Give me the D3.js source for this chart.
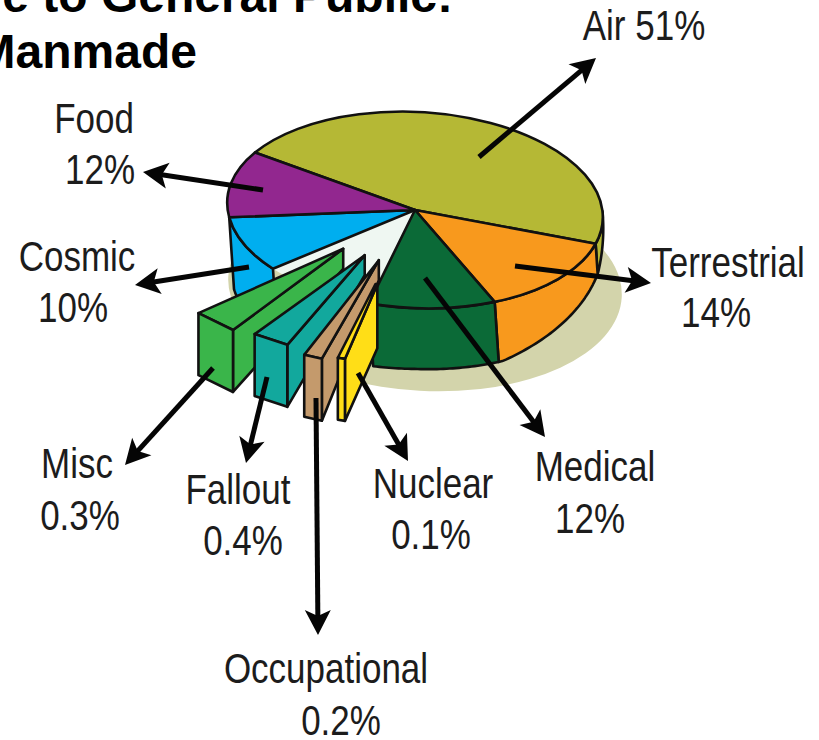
<!DOCTYPE html>
<html>
<head>
<meta charset="utf-8">
<title>Exposure to General Public</title>
<script src="https://d3js.org/d3.v7.min.js"></script>
<style>
  html, body { margin: 0; padding: 0; background: #fff; overflow: hidden; }
  svg { display: block; }
  text { font-family: "Liberation Sans", Arial, sans-serif; fill: #1c1c1c; }
  .title { font-weight: bold; font-size: 48px; fill: #000; text-anchor: end; }
  .label { font-size: 35px; text-anchor: middle; }
</style>
</head>
<body>
<svg width="819" height="740"></svg>
<script>
// clockwise from the air slice, same order as the drawing
var sliceNames = ["Air", "Terrestrial", "Medical", "Nuclear", "Occupational", "Fallout", "Misc", "Cosmic", "Food"];
var reportedPct = [51, 14, 12, 0.1, 0.2, 0.4, 0.3, 10, 12];
// the picture does not draw to scale, these are the shares as measured on it
var drawnShare = [45.6, 13.6, 10.9, 0.8, 1.7, 3.3, 3.9, 9, 11.1];
var sliceColors = ["#b5b835", "#f8991d", "#0b6a37", "#ffde17", "#c49a6c", "#12a89d", "#3ab54a", "#00aeef", "#92278f"];
var explodedNames = ["Misc", "Fallout", "Occupational", "Nuclear"];

// layout of the callouts, not data
var labelLayout = {
  Air: { name: [644, 40], pct: [0, 0], inline: true, from: [479, 157], to: [596, 58] },
  Terrestrial: { name: [728, 277], pct: [716, 327], from: [515, 266], to: [651, 283] },
  Medical: { name: [595, 481], pct: [590, 533], from: [425, 278], to: [545, 437] },
  Nuclear: { name: [433, 498], pct: [431, 549], from: [358, 373], to: [408, 461] },
  Occupational: { name: [326, 683], pct: [341, 735], from: [316, 398], to: [318, 635] },
  Fallout: { name: [238, 504], pct: [243, 555], from: [267, 377], to: [246, 463] },
  Misc: { name: [77, 478], pct: [80, 530], from: [213, 368], to: [125, 465] },
  Cosmic: { name: [77, 271], pct: [73, 322], from: [249, 267], to: [135, 285] },
  Food: { name: [94, 133], pct: [100, 184], from: [263, 190], to: [143, 172] }
};

var cx = 415, cy = 210, rx = 188, ry = 98, tilt = 3;
var tiltRad = tilt * Math.PI / 180;
var explode = { Misc: 0.57, Fallout: 0.55, Occupational: 0.56, Nuclear: 0.52 };
var blockRadius = { Misc: 1.05, Fallout: 1.03, Occupational: 1.07, Nuclear: 1.07 };
var blockTurn = { Misc: -1.5, Fallout: 0, Occupational: -1, Nuclear: -2 };
var blockDepth = 62;
var tipDepth = { Misc: 20, Fallout: 20, Occupational: 20, Nuclear: 64 };
var blockReach = { Misc: 1, Fallout: 1, Occupational: 1, Nuclear: 0.74 };
var inset = 0.4 * Math.PI / 180;
var strokeW = 2.6;
var labelStretch = 1.2;

var svg = d3.select("svg");
var color = d3.scaleOrdinal().domain(sliceNames).range(sliceColors);

var slices = d3.pie().sort(null)
  .startAngle(300 * Math.PI / 180)
  .endAngle(660 * Math.PI / 180)(drawnShare);
slices.forEach(function(d, i) { d.name = sliceNames[i]; d.pct = reportedPct[i]; });
function slice(name) { return slices.filter(function(d) { return d.name === name; })[0]; }

// the wall is not even, the pie is tipped towards the right
var wallDepth = d3.scaleLinear()
  .domain([85, 104, 152, 180, 228, 262])
  .range([0, 30, 60, 61, 68, 72])
  .clamp(true);

function offset(a, r) {
  var x = rx * r * Math.sin(a), y = -ry * r * Math.cos(a);
  return [x * Math.cos(tiltRad) - y * Math.sin(tiltRad), x * Math.sin(tiltRad) + y * Math.cos(tiltRad)];
}
function rim(a, r) {
  var o = offset(a, r);
  return [cx + o[0], cy + o[1]];
}
function deg(a) { return (a * 180 / Math.PI) % 360; }

var line = d3.line();

function wallPath(a0, a1) {
  var n = 40;
  var angles = d3.range(n + 1).map(function(i) { return a0 + (a1 - a0) * i / n; });
  var top = angles.map(function(a) { return rim(a, 1); });
  var bottom = angles.slice().reverse().map(function(a) {
    var p = rim(a, 1), h = wallDepth(deg(a));
    return [p[0] + 4 * h / 60, p[1] + h];
  });
  return line(top.concat(bottom)) + "Z";
}

// ground shadow
svg.append("ellipse")
  .attr("cx", 425).attr("cy", 287).attr("rx", 197).attr("ry", 104)
  .attr("transform", "rotate(3 425 287)")
  .attr("fill", "#d3d4ab");

// walls
var walls = [
  { name: "Cosmic", a0: slice("Cosmic").startAngle, a1: slice("Cosmic").endAngle },
  { name: "Air", a0: 85 * Math.PI / 180, a1: slice("Air").endAngle - 2 * Math.PI },
  { name: "Terrestrial", a0: slice("Terrestrial").startAngle - 2 * Math.PI, a1: slice("Terrestrial").endAngle - 2 * Math.PI },
  { name: "Medical", a0: slice("Medical").startAngle - 2 * Math.PI, a1: slice("Medical").endAngle - 2 * Math.PI }
];
svg.append("g").selectAll("path").data(walls).enter().append("path")
  .attr("d", function(d) { return wallPath(d.a0, d.a1); })
  .attr("fill", function(d) { return color(d.name); })
  .attr("stroke", "#111").attr("stroke-width", strokeW).attr("stroke-linejoin", "round");

// top surface, d3.arc flattened into the ellipse
var arc = d3.arc().innerRadius(0).outerRadius(100);
var flat = "translate(" + cx + "," + cy + ") rotate(" + tilt + ") scale(" + rx / 100 + "," + ry / 100 + ")";

svg.append("path")
  .attr("transform", flat)
  .attr("d", arc({
    startAngle: slice("Nuclear").startAngle,
    endAngle: slice("Misc").endAngle
  }))
  .attr("fill", "#eff7f2");

var tops = slices.filter(function(d) { return explodedNames.indexOf(d.name) < 0; });
svg.append("g").selectAll("path").data(tops).enter().append("path")
  .attr("transform", flat)
  .attr("d", arc)
  .attr("fill", function(d) { return color(d.name); })
  .attr("stroke", "#111").attr("stroke-width", strokeW)
  .attr("stroke-linejoin", "round")
  .attr("vector-effect", "non-scaling-stroke");

// pulled out slices, painted left to right so each one covers the last
function blockFaces(d) {
  var mid = (d.startAngle + d.endAngle) / 2;
  var turn = blockTurn[d.name] * Math.PI / 180;
  var apex = rim(mid, explode[d.name]);
  var l0 = offset(d.endAngle - inset + turn, blockRadius[d.name]);
  var r0 = offset(d.startAngle + inset + turn, blockRadius[d.name]);
  var L = [apex[0] + l0[0], apex[1] + l0[1]];
  var R = [apex[0] + r0[0], apex[1] + r0[1]];
  var t = blockReach[d.name];
  var tip = [R[0] + (apex[0] - R[0]) * t, R[1] + (apex[1] - R[1]) * t];
  var tipL = [L[0] + (apex[0] - L[0]) * t, L[1] + (apex[1] - L[1]) * t];
  var Ld = [L[0], L[1] + blockDepth], Rd = [R[0], R[1] + blockDepth];
  return [
    [R, tip, [tip[0], tip[1] + tipDepth[d.name]], Rd],
    [L, R, tip, tipL],
    [L, R, Rd, Ld]
  ];
}
var blockData = explodedNames.map(slice);
svg.append("g").selectAll("g").data(blockData).enter().append("g")
  .selectAll("path")
  .data(function(d) {
    return blockFaces(d).map(function(f) { return { name: d.name, pts: f }; });
  })
  .enter().append("path")
  .attr("d", function(f) { return line(f.pts) + "Z"; })
  .attr("fill", function(f) { return color(f.name); })
  .attr("stroke", "#111").attr("stroke-width", strokeW).attr("stroke-linejoin", "round");

// arrows
var leaders = svg.append("g").selectAll("g").data(slices).enter().append("g");
leaders.append("line")
  .attr("x1", function(d) { return labelLayout[d.name].from[0]; })
  .attr("y1", function(d) { return labelLayout[d.name].from[1]; })
  .attr("x2", function(d) { return pullBack(labelLayout[d.name], 14)[0]; })
  .attr("y2", function(d) { return pullBack(labelLayout[d.name], 14)[1]; })
  .attr("stroke", "#050505").attr("stroke-width", 5);
leaders.append("path")
  .attr("d", "M0,0L-25,-13L-19,0L-25,13Z")
  .attr("transform", function(d) {
    var l = labelLayout[d.name];
    var ang = Math.atan2(l.to[1] - l.from[1], l.to[0] - l.from[0]) * 180 / Math.PI;
    return "translate(" + l.to[0] + "," + l.to[1] + ") rotate(" + ang + ")";
  })
  .attr("fill", "#050505");

function pullBack(l, by) {
  var dx = l.to[0] - l.from[0], dy = l.to[1] - l.from[1], len = Math.sqrt(dx * dx + dy * dy);
  return [l.to[0] - dx / len * by, l.to[1] - dy / len * by];
}

// labels, the picture's type is taller than it is wide
function addLabel(pos, str) {
  svg.append("text").attr("class", "label")
    .attr("transform", "translate(" + pos[0] + "," + pos[1] + ") scale(1," + labelStretch + ")")
    .text(str);
}
slices.forEach(function(d) {
  var l = labelLayout[d.name];
  if (l.inline) {
    addLabel(l.name, d.name + " " + d.pct + "%");
    return;
  }
  addLabel(l.name, d.name);
  addLabel(l.pct, d.pct + "%");
});

// title runs off the top left of the frame in the picture
svg.append("text").attr("class", "title").attr("x", 453).attr("y", 12).text("Exposure to General Public:");
svg.append("text").attr("class", "title").attr("x", 197).attr("y", 68).text("Manmade");
</script>
</body>
</html>
